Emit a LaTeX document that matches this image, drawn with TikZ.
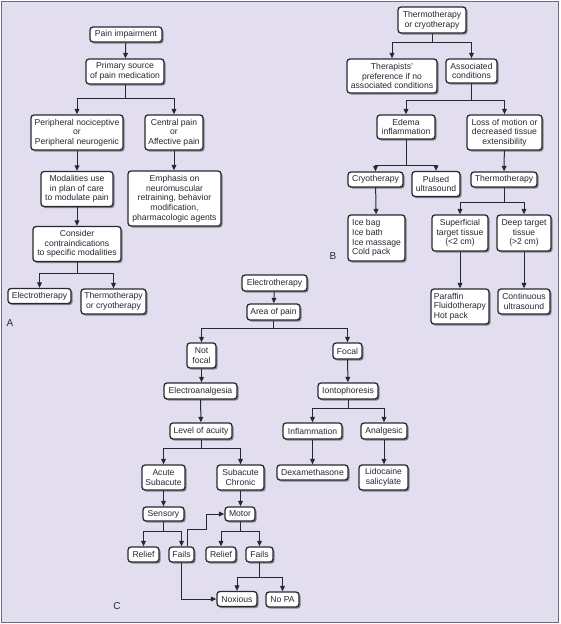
\documentclass[tikz,border=0pt]{standalone}
\usepackage{fontspec}
\setmainfont{Liberation Sans}
\usetikzlibrary{arrows.meta,shadows}
\definecolor{bg}{RGB}{227,222,239}
\definecolor{ink}{RGB}{40,40,50}
\definecolor{framec}{RGB}{110,108,120}
\tikzset{
 box/.style={draw=ink, line width=1.3pt, fill=white, rounded corners=3pt, text=ink,
   font=\fontsize{8.6}{9.7}\selectfont, align=center, inner xsep=2pt, inner ysep=0pt,
   drop shadow={shadow xshift=1.6pt, shadow yshift=-1.6pt, fill=black!60, opacity=0.75}},
 arr/.style={draw=ink, line width=1pt, -{Triangle[length=5.5pt,width=4.8pt]}},
 lbl/.style={font=\fontsize{10}{12}\selectfont, text=ink},
}
\newcommand{\bx}[6]{\node[box, minimum width=#4pt, minimum height=#5pt] (#1) at (#2,#3) {#6};}
\begin{document}
\begin{tikzpicture}[x=1pt,y=-1pt]
\useasboundingbox (0,0) rectangle (560,624);
\draw[framec, fill=bg, line width=1pt] (1.5,1.5) rectangle (558.5,622.5);
% ---------- A ----------
\bx{pain}{126}{34.5}{72}{15}{Pain impairment}
\bx{primary}{125}{71.5}{78}{25}{Primary source\\of pain medication}
\bx{periph}{77}{132.5}{92}{35}{Peripheral nociceptive\\or\\Peripheral neurogenic}
\bx{central}{174}{132.5}{58}{35}{Central pain\\or\\Affective pain}
\bx{modal}{77}{189}{72}{35}{Modalities use\\in plan of care\\to modulate pain}
\bx{emph}{174.5}{198.5}{93}{55}{Emphasis on\\neuromuscular\\retraining, behavior\\modification,\\pharmacologic agents}
\bx{consider}{77}{244}{88}{35}{Consider\\contraindications\\to specific modalities}
\bx{electroA}{39.5}{296}{63}{15}{Electrotherapy}
\bx{thermoA}{113.5}{301.5}{65}{25}{Thermotherapy\\or cryotherapy}
\node[lbl] (labA) at (10,323) {A};
\draw[arr] (pain) -- (primary);
\draw[arr] (primary.south) -- ++(0,13.7) -| (periph.north);
\draw[arr] (primary.south) -- ++(0,13.7) -| (central.north);
\draw[arr] (periph) -- (modal);
\draw[arr] (central.south) -- (central.south |- emph.north);
\draw[arr] (modal) -- (consider);
\draw[arr] (consider.south) -- ++(0,11) -| (electroA.north);
\draw[arr] (consider.south) -- ++(0,11) -| (thermoA.north);
% ---------- B ----------
\bx{thermoB}{432}{20}{68}{26}{Thermotherapy\\or cryotherapy}
\bx{therap}{392}{76}{90}{34}{Therapists'\\preference if no\\associated conditions}
\bx{assoc}{471.5}{71}{51}{24}{Associated\\conditions}
\bx{edema}{406}{127}{58}{24}{Edema\\inflammation}
\bx{loss}{504.5}{132.5}{75}{35}{Loss of motion or\\decreased tissue\\extensibility}
\bx{cryo}{375.5}{179.5}{55}{15}{Cryotherapy}
\bx{pulsed}{436}{184}{48}{25}{Pulsed\\ultrasound}
\bx{thermoB2}{504}{179.5}{66}{15}{Thermotherapy}
\node[box, align=left, minimum width=57pt, minimum height=46pt] (ice) at (376.5,238) {Ice bag\\Ice bath\\Ice massage\\Cold pack};
\bx{superf}{460}{233}{56}{36}{Superficial\\target tissue\\(<2 cm)}
\bx{deep}{524}{233}{54}{36}{Deep target\\tissue\\(>2 cm)}
\node[box, align=left, minimum width=58pt, minimum height=35pt] (paraffin) at (460,306.5) {Paraffin\\Fluidotherapy\\Hot pack};
\bx{contin}{524}{301.5}{52}{25}{Continuous\\ultrasound}
\node[lbl] (labB) at (333,256) {B};
\draw[arr] (thermoB.south) -- ++(0,9) -| (therap.north);
\draw[arr] (thermoB.south) -- ++(0,9) -| (assoc.north);
\draw[arr] (assoc.south) -- ++(0,17) -| (edema.north);
\draw[arr] (assoc.south) -- ++(0,17) -| (loss.north);
\draw[arr] (edema.south) -- ++(0,26) -| (cryo.north);
\draw[arr] (edema.south) -- ++(0,26) -| (pulsed.north);
\draw[arr] (loss) -- (thermoB2);
\draw[arr] (cryo) -- (ice);
\draw[arr] (thermoB2.south) -- ++(0,14.7) -| (superf.north);
\draw[arr] (thermoB2.south) -- ++(0,14.7) -| (deep.north);
\draw[arr] (superf) -- (paraffin);
\draw[arr] (deep) -- (contin);
% ---------- C ----------
\bx{electroC}{274.5}{283}{65}{16}{Electrotherapy}
\bx{area}{273.5}{312}{53}{16}{Area of pain}
\bx{notfocal}{201.5}{355.5}{29}{25}{Not\\focal}
\bx{focal}{347.5}{351}{29}{16}{Focal}
\bx{electroan}{200.5}{391}{73}{16}{Electroanalgesia}
\bx{ionto}{348}{391}{60}{16}{Iontophoresis}
\bx{level}{201}{431}{62}{16}{Level of acuity}
\bx{inflam}{312.5}{431}{59}{16}{Inflammation}
\bx{analg}{384}{431}{46}{16}{Analgesic}
\bx{acute}{163.5}{477.5}{43}{25}{Acute\\Subacute}
\bx{subac}{240.5}{477.5}{47}{25}{Subacute\\Chronic}
\bx{dexa}{312.5}{472.5}{71}{15}{Dexamethasone}
\bx{lido}{383.5}{477.5}{49}{25}{Lidocaine\\salicylate}
\bx{sensory}{163.5}{514}{41}{14}{Sensory}
\bx{motor}{240}{514}{30}{14}{Motor}
\bx{relief1}{143.5}{554.5}{31}{15}{Relief}
\bx{fails1}{181.5}{554.5}{25}{15}{Fails}
\bx{relief2}{221}{554.5}{30}{15}{Relief}
\bx{fails2}{259.5}{554.5}{27}{15}{Fails}
\bx{noxious}{237}{599}{40}{15}{Noxious}
\bx{nopa}{282.5}{599.5}{33}{15}{No PA}
\node[lbl] (labC) at (117,606) {C};
\draw[arr] (electroC) -- (area);
\draw[arr] (area.south) -- ++(0,8) -| (notfocal.north);
\draw[arr] (area.south) -- ++(0,8) -| (focal.north);
\draw[arr] (notfocal.south) -- (notfocal.south |- electroan.north);
\draw[arr] (focal) -- (ionto);
\draw[arr] (electroan) -- (level);
\draw[arr] (ionto.south) -- ++(0,9) -| (inflam.north);
\draw[arr] (ionto.south) -- ++(0,9) -| (analg.north);
\draw[arr] (level.south) -- ++(0,9) -| (acute.north);
\draw[arr] (level.south) -- ++(0,9) -| (subac.north);
\draw[arr] (inflam) -- (dexa);
\draw[arr] (analg.south) -- (analg.south |- lido.north);
\draw[arr] (acute) -- (sensory);
\draw[arr] (subac.south) -- (subac.south |- motor.north);
\draw[arr] (sensory.south) -- ++(0,10) -| (relief1.north);
\draw[arr] (sensory.south) -- ++(0,10) -| (fails1.north);
\draw[arr] (motor.south) -- ++(0,10) -| (relief2.north);
\draw[arr] (motor.south) -- ++(0,10) -| (fails2.north);
\draw[arr] (fails2.south) -- ++(0,14.7) -| (noxious.north);
\draw[arr] (fails2.south) -- ++(0,14.7) -| (nopa.north);
\draw[arr] (fails1.south) |- (noxious.west);
\coordinate (bend) at (206,529.3);
\draw[arr] ([xshift=5.5pt]fails1.north) |- (bend) |- (motor.west);
\end{tikzpicture}
\end{document}
